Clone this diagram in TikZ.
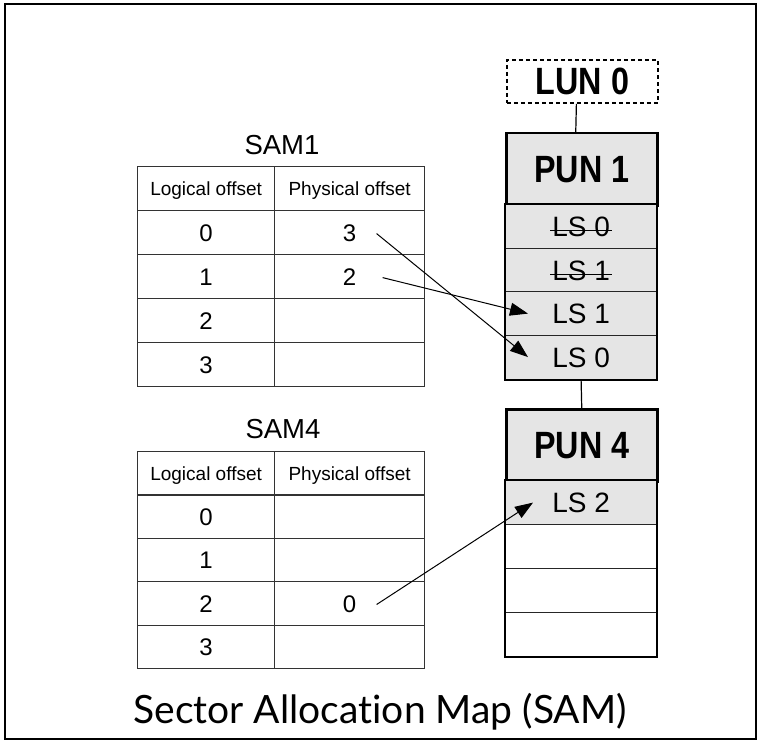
\documentclass[tikz,border=0pt]{standalone}
\usepackage{fontspec}
\setmainfont{Liberation Sans}
\newfontfamily\unitfont{Liberation Sans}[FakeStretch=0.85]
\newfontfamily\captionfont{Lato}[Ligatures=NoCommon]
\usetikzlibrary{arrows.meta,calc}

\tikzset{
  cellbase/.style={draw=black!80, line width=1.2pt, inner sep=0pt, anchor=north west,
    text depth=0pt},
  headL/.style={cellbase, minimum width=137pt, text height=13.6pt, font=\fontsize{19}{19}\selectfont},
  headP/.style={cellbase, minimum width=150pt, text height=13.6pt, font=\fontsize{19}{19}\selectfont},
  valL/.style={cellbase, minimum width=137pt, text height=17.2pt, font=\fontsize{24}{24}\selectfont},
  valP/.style={cellbase, minimum width=150pt, text height=17.2pt, font=\fontsize{24}{24}\selectfont},
  tabletitle/.style={anchor=base, inner sep=0pt, font=\fontsize{27.5}{27.5}\selectfont},
  unitbox/.style={draw=black, line width=2.5pt, fill=black!10, inner sep=0pt, anchor=north west,
    minimum width=151pt, minimum height=72pt, text height=27.2pt, text depth=0pt,
    font=\fontsize{38}{38}\unitfont\bfseries},
  lunbox/.style={unitbox, fill=none, line width=1.8pt, dash pattern=on 4pt off 3pt},
  lsrow/.style={draw=black!85, line width=1.2pt, inner sep=0pt, anchor=north west,
    minimum width=151pt, minimum height=44pt, text height=20pt, text depth=0pt,
    font=\fontsize{28}{28}\selectfont},
  lsused/.style={lsrow, fill=black!10},
  strike/.style={line width=1.2pt},
  link/.style={line width=1.2pt, draw=black},
  mapto/.style={line width=1pt, -{Triangle[length=18pt,width=13pt]}},
}

\begin{document}
\begin{tikzpicture}[x=1pt,y=-1pt]
  \useasboundingbox (0,0) rectangle (758,741);
  \draw[line width=2pt] (5,4) rectangle (756,739);

  % ---------- SAM1 table ----------
  \node[tabletitle] (sam1) at (282,155) {SAM1};
  \node[headL, minimum height=44pt] (s1hl) at (137,166) {Logical offset};
  \node[headP, minimum height=44pt] (s1hp) at (274,166) {Physical offset};
  \node[valL, minimum height=44pt] (s1l0) at (137,210) {0};
  \node[valP, minimum height=44pt] (s1p0) at (274,210) {3};
  \node[valL, minimum height=44pt] (s1l1) at (137,254) {1};
  \node[valP, minimum height=44pt] (s1p1) at (274,254) {2};
  \node[valL, minimum height=44pt] (s1l2) at (137,298) {2};
  \node[valP, minimum height=44pt] (s1p2) at (274,298) {};
  \node[valL, minimum height=44pt] (s1l3) at (137,342) {3};
  \node[valP, minimum height=44pt] (s1p3) at (274,342) {};

  % ---------- SAM4 table ----------
  \node[tabletitle] (sam4) at (283,438) {SAM4};
  \node[headL, minimum height=43.4pt] (s4hl) at (137,451) {Logical offset};
  \node[headP, minimum height=43.4pt] (s4hp) at (274,451) {Physical offset};
  \node[valL, minimum height=43.4pt] (s4l0) at (137,494.4) {0};
  \node[valP, minimum height=43.4pt] (s4p0) at (274,494.4) {};
  \node[valL, minimum height=43.4pt] (s4l1) at (137,537.8) {1};
  \node[valP, minimum height=43.4pt] (s4p1) at (274,537.8) {};
  \node[valL, minimum height=43.4pt] (s4l2) at (137,581.2) {2};
  \node[valP, minimum height=43.4pt] (s4p2) at (274,581.2) {0};
  \node[valL, minimum height=43.4pt] (s4l3) at (137,624.6) {3};
  \node[valP, minimum height=43.4pt] (s4p3) at (274,624.6) {};

  % ---------- LUN 0 ----------
  \node[lunbox, minimum height=43pt] (lun) at (506,59) {LUN 0};

  % ---------- PUN 1 ----------
  \node[unitbox] (pun1) at (505,132) {PUN 1};
  \node[lsused] (p1r1) at (505,204) {LS 0};
  \node[lsused] (p1r2) at (505,247.5) {LS 1};
  \node[lsused] (p1r3) at (505,291) {LS 1};
  \node[lsused] (p1r4) at (505,334.5) {LS 0};
  \draw[line width=2pt] (p1r1.north west) rectangle (p1r4.south east);
  \draw[strike] ($(p1r1.center)+(-31,4)$) -- ($(p1r1.center)+(31,4)$);
  \draw[strike] ($(p1r2.center)+(-31,4)$) -- ($(p1r2.center)+(31,4)$);

  % ---------- PUN 4 ----------
  \node[unitbox] (pun4) at (505,408) {PUN 4};
  \node[lsused] (p4r1) at (505,480) {LS 2};
  \node[lsrow] (p4r2) at (505,524) {};
  \node[lsrow] (p4r3) at (505,568) {};
  \node[lsrow] (p4r4) at (505,612) {};
  \draw[line width=2pt] (p4r1.north west) rectangle (p4r4.south east);

  % ---------- chain links ----------
  \draw[link] ([xshift=-6pt]lun.south) -- ([xshift=-6pt]pun1.north);
  \draw[link] (p1r4.south) -- (pun4.north);

  % ---------- mapping arrows ----------
  \coordinate (a1s) at ($(s1p0.center)+(27,1)$);
  \coordinate (a1e) at ($(p1r4.west)+(23,0)$);
  \coordinate (a2s) at ($(s1p1.center)+(33,1)$);
  \coordinate (a2e) at ($(p1r3.west)+(23,0)$);
  \coordinate (a3s) at ($(s4p2.center)+(27,1)$);
  \coordinate (a3e) at ($(p4r1.west)+(28,0)$);
  \draw[mapto] (a1s) -- (a1e);
  \draw[mapto] (a2s) -- (a2e);
  \draw[mapto] (a3s) -- (a3e);

  % ---------- caption ----------
  \node[anchor=base, inner sep=0pt, font=\fontsize{39}{39}\captionfont] (caption) at (380,723)
    {Sector Allocation Map (SAM)};
\end{tikzpicture}
\end{document}
